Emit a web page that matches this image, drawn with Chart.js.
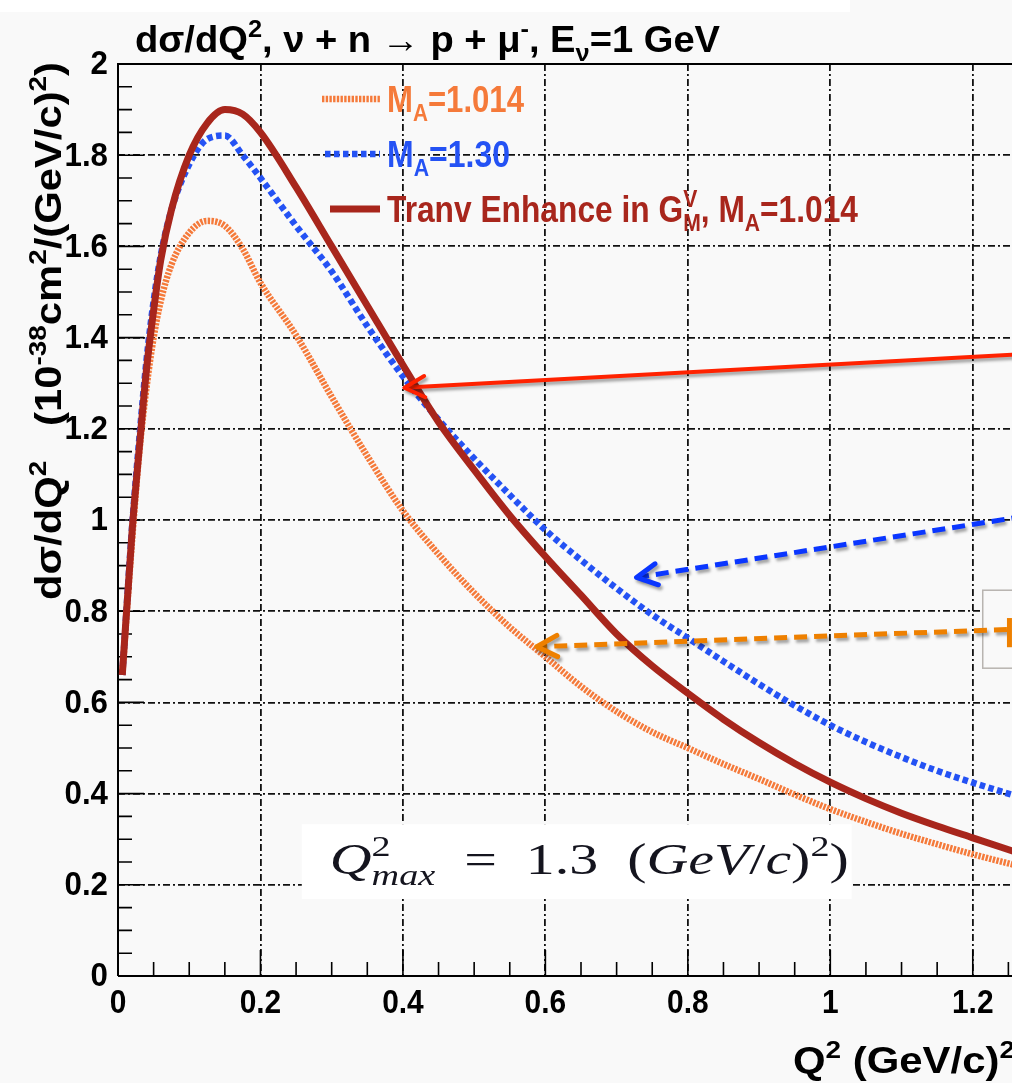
<!DOCTYPE html>
<html>
<head>
<meta charset="utf-8">
<script src="https://cdn.jsdelivr.net/npm/chart.js@4.4.0/dist/chart.umd.min.js"></script>
<style>
html, body { margin: 0; padding: 0; overflow: hidden; background: #f9f9f9; }
#wrap { width: 1060px; height: 1083px; }
</style>
</head>
<body>
<div id="wrap"><canvas id="xsecChart"></canvas></div>
<script>
// Q^2 values (GeV/c)^2 and dsigma/dQ^2 (10^-38 cm^2/(GeV/c)^2)
const qsq         = [0.006, 0.02, 0.03, 0.04, 0.05, 0.06, 0.075, 0.1, 0.125, 0.15, 0.175, 0.2, 0.25, 0.3, 0.35, 0.4, 0.45, 0.5, 0.55, 0.6, 0.65, 0.7, 0.75, 0.8, 0.85, 0.9, 0.95, 1.0, 1.05, 1.1, 1.15, 1.2, 1.26];
const xsecMA1014  = [0.66, 0.96, 1.15, 1.29, 1.40, 1.48, 1.56, 1.63, 1.656, 1.645, 1.595, 1.52, 1.405, 1.27, 1.14, 1.02, 0.925, 0.84, 0.765, 0.70, 0.635, 0.58, 0.535, 0.50, 0.465, 0.432, 0.398, 0.366, 0.338, 0.312, 0.289, 0.267, 0.243];
const xsecMA130   = [0.66, 0.99, 1.18, 1.35, 1.48, 1.58, 1.68, 1.78, 1.835, 1.843, 1.80, 1.75, 1.645, 1.545, 1.425, 1.315, 1.22, 1.135, 1.055, 0.978, 0.912, 0.85, 0.792, 0.741, 0.69, 0.64, 0.593, 0.55, 0.513, 0.48, 0.45, 0.424, 0.395];
const xsecTranv   = [0.66, 0.98, 1.16, 1.33, 1.46, 1.57, 1.68, 1.80, 1.87, 1.90, 1.89, 1.85, 1.73, 1.60, 1.47, 1.34, 1.215, 1.11, 1.01, 0.92, 0.835, 0.75, 0.68, 0.62, 0.563, 0.512, 0.466, 0.425, 0.389, 0.357, 0.329, 0.303, 0.272];

const xTickValues = [0, 0.2, 0.4, 0.6, 0.8, 1, 1.2];
const yTickValues = [0, 0.2, 0.4, 0.6, 0.8, 1, 1.2, 1.4, 1.6, 1.8, 2];

const SANS = '"Liberation Sans", Arial, Helvetica, sans-serif';
const SERIF = '"Liberation Serif", "DejaVu Serif", serif';

const cOrange = '#f57a3a';
const cBlue = '#2452f4';
const cRed = '#a8261c';

// rich text: plain runs, superscripts and subscripts
function layoutRich(ctx, parts, o) {
    let w = 0;
    const items = [];
    const small = Math.round(o.size * 0.66);
    parts.forEach(p => {
        if (p.t !== undefined) {
            ctx.font = (p.italic ? 'italic ' : '') + o.weight + ' ' + o.size + 'px ' + o.family;
            items.push({ text: p.t, font: ctx.font, x: w, dy: 0 });
            w += ctx.measureText(p.t).width;
        } else {
            let adv = 0;
            if (p.sup) {
                ctx.font = o.weight + ' ' + small + 'px ' + o.family;
                items.push({ text: p.sup, font: ctx.font, x: w, dy: -o.size * 0.42 });
                adv = Math.max(adv, ctx.measureText(p.sup).width);
            }
            if (p.sub) {
                ctx.font = (p.subItalic ? 'italic ' : '') + o.weight + ' ' + small + 'px ' + o.family;
                items.push({ text: p.sub, font: ctx.font, x: w, dy: o.size * 0.24 });
                adv = Math.max(adv, ctx.measureText(p.sub).width);
            }
            w += adv;
        }
    });
    return { items, w };
}

function drawRich(ctx, parts, x, y, o) {
    const lay = layoutRich(ctx, parts, o);
    ctx.save();
    ctx.translate(x, y);
    if (o.rotate) ctx.rotate(o.rotate);
    if (o.width) ctx.scale(o.width / lay.w, 1);
    ctx.fillStyle = o.color || '#000';
    ctx.textBaseline = 'alphabetic';
    ctx.textAlign = 'left';
    lay.items.forEach(it => {
        ctx.font = it.font;
        ctx.fillText(it.text, it.x, it.dy);
    });
    ctx.restore();
}

// texts
const titleParts = [{ t: 'dσ/dQ' }, { sup: '2' }, { t: ', ν + n → p + μ' }, { sup: '-' }, { t: ', E' }, { sub: 'ν' }, { t: '=1 GeV' }];
const yTitleParts = [{ t: 'dσ/dQ' }, { sup: '2' }, { t: '   (10' }, { sup: '-38' }, { t: 'cm' }, { sup: '2' }, { t: '/(GeV/c)' }, { sup: '2' }, { t: ')' }];
const xTitleParts = [{ t: 'Q' }, { sup: '2' }, { t: ' (GeV/c)' }, { sup: '2' }];
const legendItems = [
    { parts: [{ t: 'M' }, { sub: 'A' }, { t: '=1.014' }], color: cOrange, dash: [2.4, 1.3], width: 6.5, x0: 322, y: 99, base: 112, tw: 137 },
    { parts: [{ t: 'M' }, { sub: 'A' }, { t: '=1.30' }], color: cBlue, dash: [5.5, 3.5], width: 6.5, x0: 325, y: 154, base: 167, tw: 123 },
    { parts: [{ t: 'Tranv Enhance in G' }, { sup: 'V', sub: 'M' }, { t: ', M' }, { sub: 'A' }, { t: '=1.014' }], color: cRed, dash: [], width: 7, x0: 330, y: 209, base: 222, tw: 471 }
];
const formulaParts = [{ t: 'Q', italic: true }, { sup: '2', sub: 'max', subItalic: true }, { t: '  =  1.3  (' }, { t: 'GeV', italic: true }, { t: '/' }, { t: 'c', italic: true }, { t: ')' }, { sup: '2' }, { t: ')' }];

// annotation arrows, in data units
const arrows = [
    { from: [1.30, 1.366], to: [0.402, 1.29], color: '#ff2200', dash: [], width: 4 },
    { from: [1.30, 1.015], to: [0.728, 0.874], color: '#0a36ff', dash: [13, 7], width: 5 },
    { from: [1.248, 0.760], to: [0.588, 0.722], color: '#ee8000', dash: [13, 7], width: 5 }
];

// condensed bold tick labels taken from the scale's own ticks
function drawTickLabels(ctx, chart) {
    const { chartArea: a, scales: { x, y } } = chart;
    ctx.save();
    ctx.fillStyle = '#000';
    ctx.font = 'bold 34px ' + SANS;
    x.ticks.forEach(t => {
        const px = x.getPixelForValue(t.value);
        ctx.save();
        ctx.translate(px, a.bottom + 11);
        ctx.scale(0.88, 1);
        ctx.textAlign = 'center';
        ctx.textBaseline = 'top';
        ctx.fillText(t.label, 0, 0);
        ctx.restore();
    });
    y.ticks.forEach(t => {
        const py = y.getPixelForValue(t.value);
        ctx.save();
        ctx.translate(a.left - 10, py + 1);
        ctx.scale(0.92, 1);
        ctx.textAlign = 'right';
        ctx.textBaseline = 'middle';
        ctx.fillText(t.label, 0, 0);
        ctx.restore();
    });
    ctx.restore();
}

const decorPlugin = {
    id: 'decor',
    beforeDraw(chart) {
        const ctx = chart.ctx;
        ctx.save();
        ctx.fillStyle = '#f9f9f9';
        ctx.fillRect(0, 0, chart.width, chart.height);
        ctx.fillStyle = '#ffffff';
        ctx.fillRect(0, 0, 850, 12);
        ctx.restore();
    },
    beforeDatasetsDraw(chart) {
        const { ctx, chartArea: a, scales: { x, y } } = chart;
        ctx.save();
        ctx.strokeStyle = '#000';
        ctx.lineWidth = 1.6;
        ctx.beginPath();
        for (let i = 0; i <= 26; i++) {
            const px = x.getPixelForValue(i * 0.05);
            const len = i % 4 === 0 ? 26 : 14;
            ctx.moveTo(px, a.bottom);
            ctx.lineTo(px, a.bottom - len);
        }
        for (let i = 0; i <= 40; i++) {
            const py = y.getPixelForValue(i * 0.05);
            const len = i % 4 === 0 ? 26 : 14;
            ctx.moveTo(a.left, py);
            ctx.lineTo(a.left + len, py);
        }
        ctx.stroke();
        // frame
        ctx.lineWidth = 2;
        ctx.beginPath();
        ctx.moveTo(a.left, a.bottom);
        ctx.lineTo(a.left, a.top);
        ctx.lineTo(a.right, a.top);
        ctx.moveTo(a.left, a.bottom);
        ctx.lineTo(a.right, a.bottom);
        ctx.stroke();
        ctx.restore();
    },
    afterDatasetsDraw(chart) {
        const { ctx, scales: { x, y } } = chart;

        // legend
        legendItems.forEach(it => {
            ctx.save();
            ctx.strokeStyle = it.color;
            ctx.lineWidth = it.width;
            ctx.setLineDash(it.dash);
            ctx.beginPath();
            ctx.moveTo(it.x0, it.y);
            ctx.lineTo(380, it.y);
            ctx.stroke();
            ctx.restore();
            drawRich(ctx, it.parts, 387, it.base, { size: 36, weight: 'bold', family: SANS, color: it.color, width: it.tw });
        });

        // grey box at right edge
        const bx = x.getPixelForValue(1.214), by = y.getPixelForValue(0.846), bb = y.getPixelForValue(0.675);
        ctx.save();
        ctx.fillStyle = '#f9f9f9';
        ctx.strokeStyle = '#b8b4b0';
        ctx.lineWidth = 1.5;
        ctx.fillRect(bx, by, 80, bb - by);
        ctx.strokeRect(bx, by, 80, bb - by);
        ctx.restore();

        // arrows
        arrows.forEach(ar => {
            const x1 = x.getPixelForValue(ar.from[0]), y1 = y.getPixelForValue(ar.from[1]);
            const x2 = x.getPixelForValue(ar.to[0]), y2 = y.getPixelForValue(ar.to[1]);
            const ang = Math.atan2(y1 - y2, x1 - x2);
            ctx.save();
            ctx.shadowColor = 'rgba(0,0,0,0.35)';
            ctx.shadowBlur = 3;
            ctx.shadowOffsetX = 2;
            ctx.shadowOffsetY = 3;
            ctx.strokeStyle = ar.color;
            ctx.lineWidth = ar.width;
            ctx.setLineDash(ar.dash);
            ctx.beginPath();
            ctx.moveTo(x1, y1);
            ctx.lineTo(x2 + 3 * Math.cos(ang), y2 + 3 * Math.sin(ang));
            ctx.stroke();
            ctx.setLineDash([]);
            ctx.lineCap = 'round';
            ctx.lineJoin = 'round';
            ctx.beginPath();
            ctx.moveTo(x2 + 23 * Math.cos(ang - 0.48), y2 + 23 * Math.sin(ang - 0.48));
            ctx.lineTo(x2, y2);
            ctx.lineTo(x2 + 23 * Math.cos(ang + 0.48), y2 + 23 * Math.sin(ang + 0.48));
            ctx.stroke();
            ctx.restore();
        });

        // orange bar at end of the orange arrow
        ctx.save();
        ctx.strokeStyle = '#ee8000';
        ctx.lineWidth = 5;
        ctx.beginPath();
        ctx.moveTo(x.getPixelForValue(1.2515), y.getPixelForValue(0.785));
        ctx.lineTo(x.getPixelForValue(1.2515), y.getPixelForValue(0.721));
        ctx.stroke();
        ctx.restore();

        // formula box
        const fx0 = x.getPixelForValue(0.258), fx1 = x.getPixelForValue(1.030);
        const fy0 = y.getPixelForValue(0.333), fy1 = y.getPixelForValue(0.169);
        ctx.save();
        ctx.fillStyle = '#ffffff';
        ctx.fillRect(fx0, fy0, fx1 - fx0, fy1 - fy0);
        ctx.restore();
        drawRich(ctx, formulaParts, fx0 + 28, fy0 + 50, { size: 44, weight: 'normal', family: SERIF, color: '#14141e', width: 519 });
    },
    afterDraw(chart) {
        const ctx = chart.ctx;
        drawTickLabels(ctx, chart);
        drawRich(ctx, titleParts, 135, 52, { size: 36, weight: 'bold', family: SANS, color: '#000', width: 585 });
        drawRich(ctx, yTitleParts, 61, 600, { size: 36, weight: 'bold', family: SANS, color: '#000', width: 538, rotate: -Math.PI / 2 });
        drawRich(ctx, xTitleParts, 793, 1073, { size: 36, weight: 'bold', family: SANS, color: '#000', width: 222 });
    }
};

const toPoints = arr => qsq.map((q, i) => ({ x: q, y: arr[i] }));

const ctx = document.getElementById('xsecChart').getContext('2d');
new Chart(ctx, {
    type: 'line',
    data: {
        datasets: [
            {
                label: 'Tranv Enhance in G_M^V, M_A=1.014',
                data: toPoints(xsecTranv),
                borderColor: cRed,
                borderWidth: 7,
                pointRadius: 0,
                cubicInterpolationMode: 'monotone',
                fill: false
            },
            {
                label: 'M_A=1.30',
                data: toPoints(xsecMA130),
                borderColor: cBlue,
                borderWidth: 6.5,
                borderDash: [5.5, 3.5],
                pointRadius: 0,
                cubicInterpolationMode: 'monotone',
                fill: false
            },
            {
                label: 'M_A=1.014',
                data: toPoints(xsecMA1014),
                borderColor: cOrange,
                borderWidth: 6.5,
                borderDash: [2.4, 1.3],
                pointRadius: 0,
                cubicInterpolationMode: 'monotone',
                fill: false
            }
        ]
    },
    options: {
        responsive: true,
        maintainAspectRatio: false,
        animation: false,
        layout: { autoPadding: false, padding: { top: 64, right: 16, left: 0, bottom: 0 } },
        plugins: {
            legend: { display: false },
            tooltip: { enabled: false },
            title: { display: false }
        },
        scales: {
            x: {
                type: 'linear',
                min: 0,
                max: 1.3,
                afterFit: s => { s.height = 107; },
                afterBuildTicks: s => { s.ticks = xTickValues.map(v => ({ value: v })); },
                ticks: { display: false, autoSkip: false, callback: v => String(v) },
                grid: { color: '#111', lineWidth: 1.8, drawTicks: false },
                border: { display: false, dash: [7, 3, 2, 3] }
            },
            y: {
                type: 'linear',
                min: 0,
                max: 2,
                afterFit: s => { s.width = 118; },
                afterBuildTicks: s => { s.ticks = yTickValues.map(v => ({ value: v })); },
                ticks: { display: false, autoSkip: false, callback: v => String(v) },
                grid: { color: '#111', lineWidth: 1.8, drawTicks: false },
                border: { display: false, dash: [7, 3, 2, 3] }
            }
        }
    },
    plugins: [decorPlugin]
});
</script>
</body>
</html>
